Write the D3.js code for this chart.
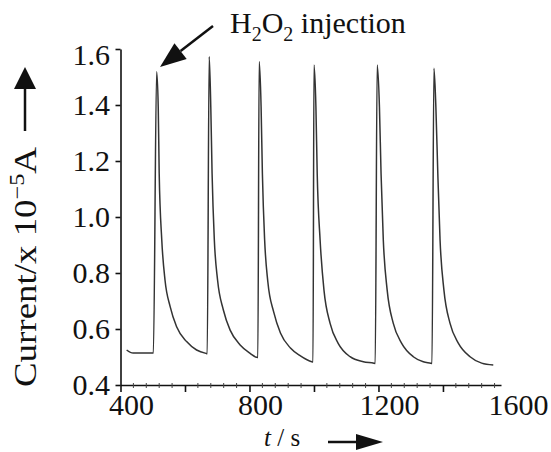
<!DOCTYPE html>
<html>
<head>
<meta charset="utf-8">
<script src="https://cdn.jsdelivr.net/npm/d3@7"></script>
<style>
  body { margin: 0; background: #fff; }
  svg text { font-family: "Liberation Serif", serif; }
</style>
</head>
<body>
<div id="chart"></div>
<script>
// **************************DATA***********************************************
// Time (s) and current (x 10^-5 A)
var timeValues = [419, 439, 502, 512, 517, 520, 528, 538, 554, 574, 605, 636, 665,
  669, 675, 680, 684, 691, 701, 719, 740, 771, 802, 822,
  826, 830, 836, 840, 847, 857, 875, 896, 927, 958, 993,
  997, 1000, 1006, 1010, 1019, 1031, 1050, 1075, 1112, 1153, 1186,
  1190, 1196, 1203, 1208, 1215, 1227, 1246, 1272, 1308, 1339, 1362,
  1366, 1372, 1378, 1384, 1391, 1403, 1422, 1448, 1484, 1520, 1556];
var currentValues = [0.525, 0.514, 0.514, 1.519, 1.394, 1.156, 0.918, 0.775, 0.680, 0.608, 0.555, 0.525, 0.513,
  0.512, 1.573, 1.394, 1.156, 0.918, 0.775, 0.668, 0.596, 0.543, 0.513, 0.499,
  0.498, 1.555, 1.394, 1.156, 0.918, 0.768, 0.661, 0.586, 0.532, 0.504, 0.483,
  0.482, 1.543, 1.394, 1.156, 0.918, 0.739, 0.620, 0.549, 0.501, 0.483, 0.478,
  0.477, 1.543, 1.394, 1.156, 0.918, 0.739, 0.620, 0.549, 0.501, 0.483, 0.478,
  0.477, 1.531, 1.394, 1.156, 0.918, 0.739, 0.620, 0.549, 0.501, 0.478, 0.471];

// Tick labels
var xTicks = [400, 600, 800, 1000, 1200, 1400];
var xLabels = [400, 800, 1200, 1600];
var xMinorTicks = d3.range(400, 1580, 40);
var yTicks = [0.4, 0.6, 0.8, 1.0, 1.2, 1.4, 1.6];

var data = timeValues.map(function(t, i) { return {t: t, c: currentValues[i]}; });

// **************************CANVAS SET UP**************************************
var svgWidth = 551,
    svgHeight = 452;

var svg = d3.select("#chart")
  .append("svg")
    .attr("width", svgWidth)
    .attr("height", svgHeight);

// *******************************SCALES****************************************
var xScale = d3.scaleLinear()
  .domain([400, 1580])
  .range([120.5, 501]);

var yScale = d3.scaleLinear()
  .domain([0.4, 1.6])
  .range([385, 49]);

// *********************************AXES****************************************
var xAxis = d3.axisBottom(xScale)
  .tickValues(xTicks)
  .tickSize(7)
  .tickSizeOuter(0)
  .tickFormat("");

var yAxis = d3.axisLeft(yScale)
  .tickValues(yTicks)
  .tickSize(5)
  .tickSizeOuter(0)
  .tickFormat("");

svg.append("g")
  .attr("transform", "translate(0,385)")
  .call(xAxis);

svg.append("g")
  .attr("transform", "translate(120.5,0)")
  .call(yAxis);

svg.selectAll(".domain, .tick line")
  .attr("stroke", "#111")
  .attr("stroke-width", 1.6);

// minor ticks on the time axis
svg.append("g")
  .selectAll("line")
  .data(xMinorTicks.filter(function(d) { return xTicks.indexOf(d) < 0; }))
  .enter()
  .append("line")
    .attr("x1", function(d) { return xScale(d); })
    .attr("x2", function(d) { return xScale(d); })
    .attr("y1", 383)
    .attr("y2", 388)
    .attr("stroke", "#444")
    .attr("stroke-width", 1);

// tick labels
svg.append("g")
  .selectAll("text")
  .data(xLabels)
  .enter()
  .append("text")
    .attr("x", function(d) { return xScale(d) + 11; })
    .attr("y", 415)
    .attr("text-anchor", "middle")
    .attr("font-size", 30)
    .attr("fill", "#111")
    .text(function(d) { return d; });

svg.append("g")
  .selectAll("text")
  .data(yTicks)
  .enter()
  .append("text")
    .attr("x", 110)
    .attr("y", function(d) { return yScale(d) + 10 + (d === 1.6 ? 6 : 0); })
    .attr("text-anchor", "end")
    .attr("font-size", 30)
    .attr("fill", "#111")
    .text(function(d) { return d.toFixed(1); });

// ******************************TRACE******************************************
var line = d3.line()
  .x(function(d) { return xScale(d.t); })
  .y(function(d) { return yScale(d.c); })
  .curve(d3.curveMonotoneX);

svg.append("path")
  .datum(data)
  .attr("d", line)
  .attr("fill", "none")
  .attr("stroke", "#333")
  .attr("stroke-width", 1.5);

// ******************************LABELS*****************************************
// y axis title
var yTitle = svg.append("text")
  .attr("transform", "translate(36,387) rotate(-90)")
  .attr("font-size", 32)
  .attr("fill", "#111")
  .attr("textLength", 240)
  .attr("lengthAdjust", "spacingAndGlyphs");
yTitle.append("tspan").text("Current/x 10");
yTitle.append("tspan").attr("font-size", 21).attr("dy", -12).text("\u22125");
yTitle.append("tspan").attr("dy", 12).text("A");

// x axis title
var xTitle = svg.append("text")
  .attr("x", 264)
  .attr("y", 446)
  .attr("font-size", 25)
  .attr("fill", "#111");
xTitle.append("tspan").attr("font-style", "italic").text("t");
xTitle.append("tspan").text(" / s");

// annotation
var note = svg.append("text")
  .attr("x", 230)
  .attr("y", 33)
  .attr("font-size", 30)
  .attr("fill", "#111");
note.append("tspan").text("H");
note.append("tspan").attr("font-size", 20).attr("dy", 8).text("2");
note.append("tspan").attr("dy", -8).text("O");
note.append("tspan").attr("font-size", 20).attr("dy", 8).text("2");
note.append("tspan").attr("dy", -8).text(" injection");

// arrows
function arrow(x1, y1, x2, y2, headLen, headHalf) {
  var ang = Math.atan2(y2 - y1, x2 - x1);
  var bx = x2 - headLen * Math.cos(ang),
      by = y2 - headLen * Math.sin(ang);
  svg.append("line")
    .attr("x1", x1).attr("y1", y1)
    .attr("x2", bx).attr("y2", by)
    .attr("stroke", "#111")
    .attr("stroke-width", 2.5);
  var px = -Math.sin(ang) * headHalf,
      py = Math.cos(ang) * headHalf;
  svg.append("path")
    .attr("d", "M" + x2 + "," + y2 +
      "L" + (bx + px) + "," + (by + py) +
      "L" + (bx - px) + "," + (by - py) + "Z")
    .attr("fill", "#111");
}

arrow(213, 26, 160, 67, 26, 10);
arrow(25, 131, 25, 67, 22, 11);
arrow(328, 442, 383, 442, 27, 8);
</script>
</body>
</html>
